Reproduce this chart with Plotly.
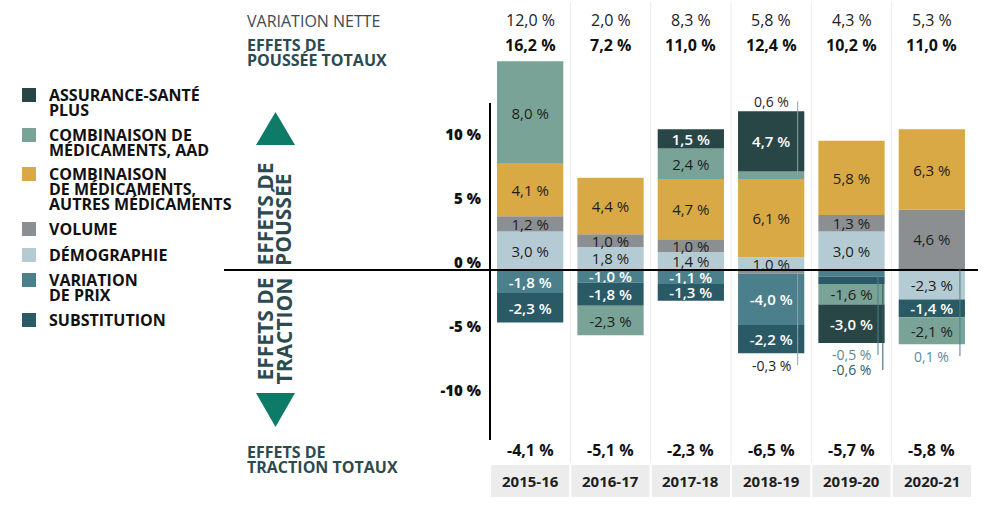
import plotly.graph_objects as go

# ---------------- data ----------------
years = ["2015-16", "2016-17", "2017-18", "2018-19", "2019-20", "2020-21"]
net_change = ["12,0 %", "2,0 %", "8,3 %", "5,8 %", "4,3 %", "5,3 %"]
push_totals = ["16,2 %", "7,2 %", "11,0 %", "12,4 %", "10,2 %", "11,0 %"]
drag_totals = ["-4,1 %", "-5,1 %", "-2,3 %", "-6,5 %", "-5,7 %", "-5,8 %"]

assurance = [0.0, 0.0, 1.5, 4.7, -3.0, 0.0]
aad = [8.0, -2.3, 2.4, 0.6, -1.6, -2.1]
autres = [4.1, 4.4, 4.7, 6.1, 5.8, 6.3]
volume = [1.2, 1.0, 1.0, -0.3, 1.3, 4.6]
demo = [3.0, 1.8, 1.4, 1.0, 3.0, -2.3]
prix = [-1.8, -1.0, -1.1, -4.0, -0.5, 0.1]
substitution = [-2.3, -1.8, -1.3, -2.2, -0.6, -1.4]

series = {
    "assurance": dict(vals=assurance, color="#284646", txt="#ffffff",
                      legend=["ASSURANCE-SANTÉ", "PLUS"]),
    "aad": dict(vals=aad, color="#78a396", txt="#1e1e1e",
                legend=["COMBINAISON DE", "MÉDICAMENTS, AAD"]),
    "autres": dict(vals=autres, color="#d8a945", txt="#1e1e1e",
                   legend=["COMBINAISON", "DE MÉDICAMENTS,", "AUTRES MÉDICAMENTS"]),
    "volume": dict(vals=volume, color="#8c8f91", txt="#1e1e1e", legend=["VOLUME"]),
    "demo": dict(vals=demo, color="#b5cbd3", txt="#1e1e1e", legend=["DÉMOGRAPHIE"]),
    "prix": dict(vals=prix, color="#4c7f8c", txt="#ffffff", legend=["VARIATION", "DE PRIX"]),
    "substitution": dict(vals=substitution, color="#2a5a66", txt="#ffffff",
                         legend=["SUBSTITUTION"]),
}
legend_order = ["assurance", "aad", "autres", "volume", "demo", "prix", "substitution"]
pos_order = ["prix", "demo", "volume", "autres", "aad", "assurance"]      # bottom -> top
neg_order = ["volume", "demo", "prix", "substitution", "aad", "assurance"]  # top -> bottom

# small segments labelled outside the bar: (year index, series, side, slot, line offset, text colour)
callouts = [
    (3, "aad", "top", 0, 0.33, "#1e1e1e"),
    (3, "volume", "bottom", 0, 0.33, "#1e1e1e"),
    (4, "prix", "bottom", 0, 0.33, "#5b8b98"),
    (4, "substitution", "bottom", 1, 0.39, "#2d5c68"),
    (5, "prix", "bottom", 0, 0.35, "#5b8b98"),
]

# ---------------- geometry helpers ----------------
W, H = 999, 507
L, R, T, B = 490, 972, 60, 440
ZERO_PX = 270
PX_PER = 12.8
yrange = [-(B - ZERO_PX) / PX_PER, (ZERO_PX - T) / PX_PER]


def pxx(p):
    return (p - L) / (R - L)


def pxy(p):
    return (B - p) / (B - T)


FONT = "Open Sans"
DARK = "#2d4a4e"


def fmt(v):
    return f"{v:.1f}".replace(".", ",") + " %"


def note(x, y, text, size, color, xref="paper", yref="paper", xanchor="center",
         yanchor="middle", angle=0, weight=None):
    f = dict(family=FONT, size=size, color=color)
    if weight:
        f["weight"] = weight
    return dict(x=x, y=y, xref=xref, yref=yref, text=text, showarrow=False,
                xanchor=xanchor, yanchor=yanchor, textangle=angle, font=f)


fig = go.Figure()

for sign, order in (("pos", pos_order), ("neg", neg_order)):
    for key in order:
        s = series[key]
        vals = [v if ((v > 0) if sign == "pos" else (v < 0)) else None for v in s["vals"]]
        texts = [fmt(v) if (v is not None and abs(v) >= 0.8) else "" for v in vals]
        fig.add_trace(go.Bar(
            x=years, y=vals, marker=dict(color=s["color"], line=dict(width=0)),
            text=texts, textposition="inside", insidetextanchor="middle",
            textangle=0, constraintext="none",
            textfont=dict(family=FONT, size=15, color=s["txt"],
                          weight=600 if s["txt"] == "#ffffff" else 400),
            showlegend=False, hoverinfo="skip",
        ))

annotations = []
shapes = []

# column separators and category boxes
for i in range(len(years) - 1):
    shapes.append(dict(type="line", xref="x", yref="paper", x0=i + 0.5, x1=i + 0.5,
                       y0=pxy(463), y1=pxy(2), line=dict(color="#ececec", width=1), layer="below"))
for i, yr in enumerate(years):
    shapes.append(dict(type="rect", xref="x", yref="paper", x0=i - 0.487, x1=i + 0.487,
                       y0=pxy(497), y1=pxy(465), fillcolor="#ececec", line=dict(width=0),
                       layer="below"))
    annotations.append(note(i, pxy(481), f"<b>{yr}</b>", 15, "#1e1e1e", xref="x", weight=800))
    annotations.append(note(i, pxy(20), net_change[i], 16, "#222222", xref="x"))
    annotations.append(note(i, pxy(45), f"<b>{push_totals[i]}</b>", 16, "#111111", xref="x", weight=800))
    annotations.append(note(i, pxy(450), f"<b>{drag_totals[i]}</b>", 16, "#111111", xref="x", weight=800))

# row headings
annotations.append(note(pxx(245), pxy(21), "VARIATION NETTE", 16, "#3c4a50", xanchor="left"))
for txt, yy in (("EFFETS DE", 45), ("POUSSÉE TOTAUX", 60), ("EFFETS DE", 452), ("TRACTION TOTAUX", 467)):
    annotations.append(note(pxx(245), pxy(yy), f"<b>{txt}</b>", 16, DARK, xanchor="left", weight=800))

# legend
sq_y = {"assurance": 95, "aad": 135, "autres": 174, "volume": 229, "demo": 255,
        "prix": 280, "substitution": 320}
for key in legend_order:
    s = series[key]
    cy = sq_y[key]
    shapes.append(dict(type="rect", xref="paper", yref="paper", x0=pxx(22), x1=pxx(36),
                       y0=pxy(cy + 7), y1=pxy(cy - 7), fillcolor=s["color"], line=dict(width=0)))
    for j, line in enumerate(s["legend"]):
        annotations.append(note(pxx(47), pxy(cy + 15 * j), f"<b>{line}</b>", 16, "#111111",
                                xanchor="left", weight=800))

# rotated side labels and triangles
for txt, xx, anchor, yy in (("EFFETS DE", 264, "bottom", 268), ("POUSSÉE", 283, "bottom", 268),
                            ("EFFETS DE", 264, "top", 276), ("TRACTION", 283, "top", 276)):
    annotations.append(note(pxx(xx), pxy(yy), f"<b>{txt}</b>", 21, DARK, yanchor=anchor,
                            angle=-90, weight=800))
shapes.append(dict(type="path", xref="paper", yref="paper", fillcolor="#0d7b68", line=dict(width=0),
                   path=f"M {pxx(256)},{pxy(145)} L {pxx(295)},{pxy(145)} L {pxx(275.5)},{pxy(112)} Z"))
shapes.append(dict(type="path", xref="paper", yref="paper", fillcolor="#0d7b68", line=dict(width=0),
                   path=f"M {pxx(256)},{pxy(393)} L {pxx(295)},{pxy(393)} L {pxx(275.5)},{pxy(427)} Z"))

# axis line and zero line
shapes.append(dict(type="line", xref="paper", yref="y", x0=0, x1=0, y0=yrange[0],
                   y1=(ZERO_PX - 103) / PX_PER, line=dict(color="#000000", width=2)))
shapes.append(dict(type="line", xref="paper", yref="y", x0=pxx(224), x1=pxx(978), y0=0, y1=0,
                   line=dict(color="#000000", width=2)))

# callouts for small segments
for (i, key, side, slot, dx, tcol) in callouts:
    pos_top = sum(series[k]["vals"][i] for k in pos_order if series[k]["vals"][i] > 0)
    neg_bot = sum(series[k]["vals"][i] for k in neg_order if series[k]["vals"][i] < 0)
    v = series[key]["vals"][i]
    if v > 0:
        below = sum(series[k]["vals"][i] for k in pos_order[:pos_order.index(key)]
                    if series[k]["vals"][i] > 0)
    else:
        below = sum(series[k]["vals"][i] for k in neg_order[:neg_order.index(key)]
                    if series[k]["vals"][i] < 0)
    seg_mid = below + v / 2
    if side == "top":
        ly = pos_top + (10 + 15 * slot) / PX_PER
    else:
        ly = neg_bot - (12 + 15 * slot) / PX_PER
    shapes.append(dict(type="line", xref="x", yref="y", x0=i + dx, x1=i + dx, y0=seg_mid, y1=ly,
                       line=dict(color=series[key]["color"] if tcol != "#1e1e1e" else "#8aa6ad",
                                 width=1)))
    annotations.append(note(i, ly, fmt(v), 14, tcol, xref="x", yref="y"))

fig.update_layout(
    width=W, height=H, barmode="relative", bargap=0.175,
    margin=dict(l=L, r=W - R, t=T, b=H - B, pad=0),
    plot_bgcolor="white", paper_bgcolor="white",
    xaxis=dict(type="category", range=[-0.5, 5.5], showticklabels=False, showgrid=False,
               zeroline=False, showline=False, ticks=""),
    yaxis=dict(range=yrange, showgrid=False, zeroline=False, showline=False,
               tickvals=[-10, -5, 0, 5, 10], ticktext=["-10 %", "-5 %", "0 %", "5 %", "10 %"],
               tickfont=dict(family=FONT, size=15, color="#111111", weight=800),
               ticks="", ticklabelstandoff=8, ticklabelshift=-7),
    annotations=annotations, shapes=shapes, showlegend=False,
)

fig.write_html("out.html", config={"displayModeBar": False},
               post_script="document.body.style.margin='0';")
